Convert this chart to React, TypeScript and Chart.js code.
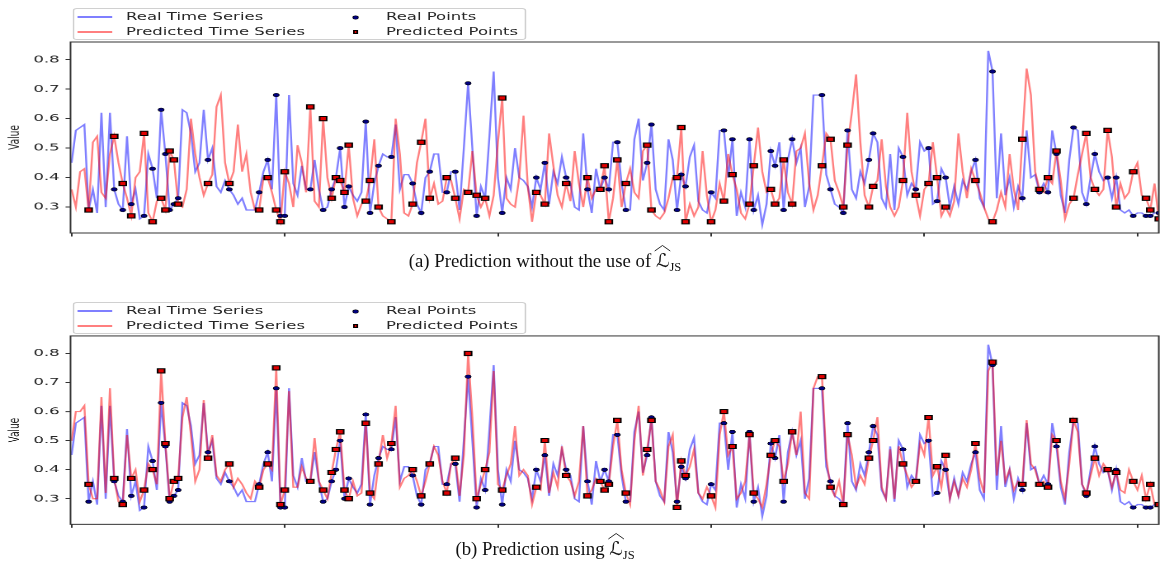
import React, { useEffect, useRef } from "react";
import { Chart, registerables } from "chart.js";
Chart.register(...registerables);

// one stored value every SAMPLE_STEP time steps
const SAMPLE_STEP = 2;

const realSeries = [
  0.45, 0.56, 0.57, 0.58, 0.29, 0.36, 0.28, 0.62, 0.30, 0.62,
  0.36, 0.31, 0.29, 0.54, 0.31, 0.36, 0.26, 0.27, 0.48, 0.43,
  0.33, 0.63, 0.48, 0.29, 0.31, 0.33, 0.63, 0.62, 0.55, 0.42,
  0.45, 0.63, 0.46, 0.50, 0.37, 0.35, 0.39, 0.36, 0.34, 0.31,
  0.33, 0.29, 0.29, 0.29, 0.35, 0.42, 0.46, 0.36, 0.68, 0.27,
  0.27, 0.68, 0.38, 0.34, 0.44, 0.36, 0.36, 0.46, 0.36, 0.29,
  0.30, 0.36, 0.40, 0.50, 0.30, 0.37, 0.34, 0.32, 0.35, 0.59,
  0.28, 0.38, 0.44, 0.48, 0.47, 0.47, 0.58, 0.36, 0.41, 0.41,
  0.38, 0.31, 0.28, 0.40, 0.42, 0.48, 0.48, 0.35, 0.35, 0.42,
  0.42, 0.29, 0.50, 0.72, 0.50, 0.27, 0.37, 0.33, 0.54, 0.76,
  0.40, 0.28, 0.40, 0.36, 0.50, 0.40, 0.39, 0.37, 0.30, 0.40,
  0.36, 0.45, 0.31, 0.42, 0.38, 0.47, 0.40, 0.38, 0.30, 0.29,
  0.55, 0.36, 0.28, 0.43, 0.36, 0.40, 0.36, 0.52, 0.52, 0.38,
  0.29, 0.29, 0.53, 0.60, 0.39, 0.45, 0.58, 0.36, 0.31, 0.29,
  0.53, 0.46, 0.29, 0.41, 0.37, 0.47, 0.51, 0.32, 0.29, 0.28,
  0.35, 0.33, 0.56, 0.56, 0.40, 0.53, 0.27, 0.35, 0.30, 0.53,
  0.29, 0.34, 0.24, 0.31, 0.49, 0.44, 0.52, 0.29, 0.46, 0.53,
  0.45, 0.50, 0.30, 0.37, 0.68, 0.68, 0.68, 0.41, 0.36, 0.31,
  0.30, 0.28, 0.56, 0.36, 0.33, 0.42, 0.38, 0.46, 0.55, 0.52,
  0.33, 0.30, 0.48, 0.29, 0.50, 0.47, 0.34, 0.38, 0.36, 0.52,
  0.49, 0.50, 0.31, 0.32, 0.43, 0.40, 0.30, 0.37, 0.31, 0.39,
  0.36, 0.42, 0.46, 0.33, 0.30, 0.83, 0.76, 0.33, 0.55, 0.34,
  0.40, 0.30, 0.37, 0.33, 0.56, 0.40, 0.41, 0.35, 0.38, 0.35,
  0.56, 0.48, 0.34, 0.28, 0.46, 0.57, 0.56, 0.35, 0.31, 0.40,
  0.48, 0.42, 0.39, 0.40, 0.33, 0.40, 0.29, 0.28, 0.29, 0.27,
  0.28, 0.28, 0.27, 0.27, 0.28, 0.28,
];

const predNoJS = [
  0.36, 0.30, 0.42, 0.43, 0.29, 0.52, 0.54, 0.35, 0.33, 0.48,
  0.54, 0.45, 0.38, 0.33, 0.27, 0.40, 0.42, 0.55, 0.28, 0.25,
  0.32, 0.33, 0.29, 0.49, 0.46, 0.31, 0.30, 0.36, 0.60, 0.48,
  0.40, 0.34, 0.38, 0.41, 0.64, 0.68, 0.45, 0.38, 0.42, 0.58,
  0.42, 0.48, 0.35, 0.29, 0.29, 0.40, 0.40, 0.35, 0.29, 0.25,
  0.42, 0.38, 0.30, 0.51, 0.45, 0.35, 0.64, 0.32, 0.30, 0.60,
  0.40, 0.33, 0.40, 0.39, 0.35, 0.51, 0.33, 0.27, 0.31, 0.32,
  0.39, 0.53, 0.30, 0.27, 0.26, 0.25, 0.60, 0.48, 0.28, 0.27,
  0.31, 0.45, 0.52, 0.60, 0.33, 0.38, 0.31, 0.32, 0.40, 0.39,
  0.33, 0.26, 0.36, 0.35, 0.49, 0.34, 0.30, 0.33, 0.27, 0.34,
  0.52, 0.67, 0.33, 0.31, 0.30, 0.40, 0.61, 0.37, 0.25, 0.35,
  0.34, 0.31, 0.55, 0.44, 0.34, 0.30, 0.38, 0.32, 0.49, 0.38,
  0.30, 0.40, 0.33, 0.36, 0.36, 0.44, 0.25, 0.33, 0.46, 0.30,
  0.38, 0.43, 0.35, 0.33, 0.49, 0.51, 0.29, 0.27, 0.26, 0.28,
  0.33, 0.40, 0.40, 0.57, 0.25, 0.31, 0.27, 0.30, 0.49, 0.34,
  0.25, 0.29, 0.38, 0.32, 0.48, 0.41, 0.36, 0.28, 0.26, 0.31,
  0.44, 0.57, 0.42, 0.35, 0.36, 0.31, 0.33, 0.46, 0.35, 0.31,
  0.49, 0.50, 0.55, 0.38, 0.29, 0.34, 0.44, 0.55, 0.53, 0.39,
  0.35, 0.30, 0.51, 0.62, 0.75, 0.52, 0.34, 0.30, 0.37, 0.39,
  0.53, 0.37, 0.30, 0.27, 0.30, 0.39, 0.62, 0.42, 0.34, 0.27,
  0.36, 0.38, 0.52, 0.40, 0.27, 0.30, 0.27, 0.32, 0.55, 0.42,
  0.33, 0.43, 0.39, 0.35, 0.30, 0.26, 0.25, 0.29, 0.35, 0.30,
  0.48, 0.36, 0.29, 0.53, 0.77, 0.68, 0.42, 0.36, 0.35, 0.40,
  0.38, 0.49, 0.39, 0.26, 0.31, 0.33, 0.41, 0.48, 0.55, 0.40,
  0.36, 0.34, 0.36, 0.56, 0.47, 0.30, 0.38, 0.33, 0.35, 0.42,
  0.45, 0.34, 0.33, 0.29, 0.38, 0.26,
];

const predJS = [
  0.50, 0.60, 0.60, 0.62, 0.35, 0.30, 0.30, 0.65, 0.32, 0.68,
  0.37, 0.29, 0.28, 0.52, 0.37, 0.40, 0.29, 0.33, 0.42, 0.40,
  0.35, 0.74, 0.49, 0.30, 0.36, 0.37, 0.58, 0.65, 0.52, 0.36,
  0.40, 0.64, 0.44, 0.52, 0.38, 0.36, 0.40, 0.42, 0.34, 0.37,
  0.35, 0.32, 0.30, 0.36, 0.34, 0.40, 0.42, 0.40, 0.75, 0.28,
  0.33, 0.67, 0.34, 0.34, 0.41, 0.37, 0.36, 0.51, 0.36, 0.33,
  0.30, 0.39, 0.47, 0.53, 0.33, 0.30, 0.36, 0.31, 0.32, 0.56,
  0.32, 0.30, 0.42, 0.52, 0.44, 0.49, 0.62, 0.34, 0.37, 0.38,
  0.40, 0.36, 0.31, 0.36, 0.42, 0.48, 0.45, 0.36, 0.32, 0.42,
  0.44, 0.31, 0.45, 0.80, 0.58, 0.30, 0.35, 0.40, 0.46, 0.74,
  0.35, 0.33, 0.38, 0.42, 0.55, 0.38, 0.40, 0.38, 0.28, 0.34,
  0.33, 0.50, 0.32, 0.39, 0.34, 0.48, 0.38, 0.36, 0.31, 0.36,
  0.55, 0.31, 0.33, 0.37, 0.36, 0.33, 0.35, 0.48, 0.57, 0.40,
  0.32, 0.28, 0.50, 0.62, 0.38, 0.47, 0.57, 0.36, 0.33, 0.29,
  0.48, 0.52, 0.27, 0.43, 0.38, 0.41, 0.47, 0.32, 0.30, 0.34,
  0.31, 0.27, 0.52, 0.60, 0.45, 0.48, 0.30, 0.32, 0.36, 0.52,
  0.32, 0.30, 0.27, 0.35, 0.45, 0.50, 0.48, 0.36, 0.42, 0.53,
  0.45, 0.60, 0.32, 0.30, 0.68, 0.72, 0.72, 0.44, 0.34, 0.31,
  0.36, 0.28, 0.52, 0.45, 0.34, 0.38, 0.35, 0.44, 0.50, 0.58,
  0.34, 0.30, 0.47, 0.30, 0.48, 0.42, 0.38, 0.34, 0.36, 0.49,
  0.45, 0.58, 0.38, 0.41, 0.34, 0.45, 0.30, 0.36, 0.31, 0.37,
  0.34, 0.40, 0.49, 0.37, 0.32, 0.74, 0.77, 0.38, 0.50, 0.36,
  0.40, 0.33, 0.36, 0.35, 0.57, 0.42, 0.40, 0.35, 0.36, 0.34,
  0.52, 0.50, 0.36, 0.30, 0.42, 0.57, 0.53, 0.35, 0.32, 0.38,
  0.44, 0.38, 0.42, 0.40, 0.34, 0.39, 0.33, 0.32, 0.40, 0.36,
  0.33, 0.38, 0.30, 0.35, 0.28, 0.28,
];

// indices (into the stored arrays) of the marked sample points
const sampleIdx = [
  4, 10, 12, 14, 17, 19, 21, 22, 23, 24, 25, 32, 37, 44, 46, 48, 49, 50, 56, 59,
  61, 62, 63, 64, 65, 69, 70, 72, 75, 80, 82, 84, 88, 90, 93, 95, 97, 101, 109, 111,
  116, 121, 124, 125, 126, 128, 130, 135, 136, 142, 143, 144, 150, 153, 155, 159, 160, 164, 165, 167,
  169, 176, 178, 181, 182, 187, 188, 195, 198, 201, 203, 205, 212, 216, 223, 227, 229, 231, 235, 238,
  240, 243, 245, 249, 252, 253, 255,
];

const yTicks = [0.3, 0.4, 0.5, 0.6, 0.7, 0.8];
const xTicks = [0, 100, 200, 300, 400, 500];
const legendLabels = ["Real Time Series", "Predicted Time Series", "Real Points", "Predicted Points"];
const captionTexts = ["(a) Prediction without the use of ", "(b) Prediction using "];

const SX = 1.65; // the figure is stretched horizontally
const PAGE_W = 1167;
const W = PAGE_W / SX;
const PLOT_LEFT = 70.5;
const PLOT_RIGHT = 1164;

const toXY = (arr: number[]) => arr.map((v, k) => ({ x: k * SAMPLE_STEP, y: v }));
const toPts = (arr: number[]) => sampleIdx.map((k) => ({ x: k * SAMPLE_STEP, y: arr[k] }));

const framePlugin = {
  id: "frame",
  afterDraw(chart: any) {
    const { ctx, chartArea } = chart;
    const { left, top, right, bottom } = chartArea;
    ctx.save();
    ctx.strokeStyle = "#333";
    ctx.lineWidth = 1;
    ctx.strokeRect(left, top, right - left, bottom - top);
    ctx.restore();
  },
};

const TEXT = "#262626";

function Legend({ top }: { top: number }) {
  const r1 = top + 9;
  const r2 = top + 24;
  const txt = (s: string, left: number, cy: number) => (
    <div
      style={{
        position: "absolute",
        left,
        top: cy - 6.5,
        fontFamily: "'DejaVu Sans', sans-serif",
        fontSize: 10,
        lineHeight: "12px",
        color: TEXT,
        whiteSpace: "nowrap",
      }}
    >
      {s}
    </div>
  );
  return (
    <>
      <div
        style={{
          position: "absolute",
          left: 44.2,
          top,
          width: 274.5,
          height: 32,
          border: "1px solid #d0d0d0",
          borderRadius: 2.5,
          background: "rgba(255,255,255,0.8)",
          boxSizing: "border-box",
        }}
      />
      <div style={{ position: "absolute", left: 47.3, top: r1 - 0.6, width: 21.2, height: 1.2, background: "rgba(0,0,255,0.5)" }} />
      <div style={{ position: "absolute", left: 47.3, top: r2 - 0.6, width: 21.2, height: 1.2, background: "rgba(255,0,0,0.5)" }} />
      {txt(legendLabels[0], 76.4, r1)}
      {txt(legendLabels[1], 76.4, r2)}
      <div
        style={{
          position: "absolute",
          left: 214.2,
          top: r1 - 1.5,
          width: 2.8,
          height: 3,
          borderRadius: "50%",
          background: "#000080",
          boxShadow: "0 0 0 0.4px #000",
        }}
      />
      <div
        style={{
          position: "absolute",
          left: 213.9,
          top: r2 - 1.8,
          width: 3.4,
          height: 3.6,
          background: "#e00000",
          border: "0.8px solid #000",
          boxSizing: "border-box",
        }}
      />
      {txt(legendLabels[2], 233.9, r1)}
      {txt(legendLabels[3], 233.9, r2)}
    </>
  );
}

function Panel({ predicted, plotTop, plotBottom, legendTop }: { predicted: number[]; plotTop: number; plotBottom: number; legendTop: number }) {
  const ref = useRef<HTMLCanvasElement | null>(null);
  const PAD = 18;
  const X_AXIS_H = 8;
  const canvasTop = plotTop - PAD;
  const canvasH = plotBottom - plotTop + 2 * PAD;

  useEffect(() => {
    if (!ref.current) return;
    const chart = new Chart(ref.current, {
      type: "line",
      data: {
        datasets: [
          {
            label: legendLabels[3],
            data: toPts(predicted),
            showLine: false,
            pointStyle: "rect",
            pointRadius: 3,
            pointBackgroundColor: "#e00000",
            pointBorderColor: "#000",
            pointBorderWidth: 1,
            order: 0,
          },
          {
            label: legendLabels[2],
            data: toPts(realSeries),
            showLine: false,
            pointStyle: "circle",
            pointRadius: 1.8,
            pointBackgroundColor: "#000080",
            pointBorderColor: "#000",
            pointBorderWidth: 0.5,
            order: 1,
          },
          {
            label: legendLabels[1],
            data: toXY(predicted),
            borderColor: "rgba(255,0,0,0.5)",
            borderWidth: 1.2,
            pointRadius: 0,
            tension: 0,
            order: 2,
          },
          {
            label: legendLabels[0],
            data: toXY(realSeries),
            borderColor: "rgba(0,0,255,0.5)",
            borderWidth: 1.2,
            pointRadius: 0,
            tension: 0,
            order: 3,
          },
        ] as any,
      },
      options: {
        animation: false,
        responsive: true,
        maintainAspectRatio: false,
        devicePixelRatio: 2,
        events: [],
        layout: { padding: { top: PAD, bottom: PAD - X_AXIS_H, left: 0, right: W - PLOT_RIGHT / SX } },
        plugins: { legend: { display: false }, tooltip: { enabled: false } },
        scales: {
          x: {
            type: "linear",
            min: -0.5,
            max: 510,
            afterBuildTicks: (s: any) => {
              s.ticks = xTicks.map((v) => ({ value: v }));
            },
            afterFit: (s: any) => {
              s.height = X_AXIS_H;
            },
            ticks: { display: false },
            grid: { display: true, drawOnChartArea: false, drawTicks: true, tickLength: 3.5, color: "#333", lineWidth: 1 },
            border: { display: false },
          },
          y: {
            type: "linear",
            min: 0.212,
            max: 0.86,
            afterBuildTicks: (s: any) => {
              s.ticks = yTicks.map((v) => ({ value: v }));
            },
            afterFit: (s: any) => {
              s.width = PLOT_LEFT / SX;
            },
            ticks: {
              autoSkip: false,
              padding: 3.6,
              color: TEXT,
              font: { family: "'DejaVu Sans'", size: 10 },
              callback: (v: any) => Number(v).toFixed(1),
            },
            grid: { display: true, drawOnChartArea: false, drawTicks: true, tickLength: 3, color: "#333", lineWidth: 1 },
            border: { display: false },
            title: {
              display: true,
              text: "Value",
              color: TEXT,
              font: { family: "'DejaVu Sans'", size: 9 },
              padding: { top: 3.7, bottom: 0 },
            },
          },
        },
      } as any,
      plugins: [framePlugin],
    });
    return () => chart.destroy();
  }, [predicted]);

  return (
    <div
      style={{
        position: "absolute",
        left: 0,
        top: 0,
        width: W,
        height: 564,
        transform: `scaleX(${SX})`,
        transformOrigin: "0 0",
      }}
    >
      <div style={{ position: "absolute", left: 0, top: canvasTop, width: W, height: canvasH }}>
        <canvas ref={ref} />
      </div>
      <Legend top={legendTop} />
    </div>
  );
}

function Caption({ text, top, center }: { text: string; top: number; center: number }) {
  return (
    <div
      style={{
        position: "absolute",
        top,
        left: center,
        transform: "translateX(-50%)",
        whiteSpace: "nowrap",
        fontFamily: "'Liberation Serif', 'Times New Roman', serif",
        fontSize: 18.8,
        lineHeight: "19px",
        color: "#111",
      }}
    >
      {text}
      <span style={{ position: "relative", display: "inline-block", fontFamily: "'DejaVu Sans', serif", fontStyle: "italic" }}>
        ℒ
        <svg
          viewBox="0 0 20 6"
          preserveAspectRatio="none"
          style={{ position: "absolute", left: -1, top: -6, width: "115%", height: 6, overflow: "visible" }}
        >
          <path d="M0 6 L10 0.5 L20 6" fill="none" stroke="#111" strokeWidth={1} />
        </svg>
      </span>
      <span style={{ fontSize: 12.5, position: "relative", top: 4 }}>JS</span>
    </div>
  );
}

export default function App() {
  return (
    <div style={{ position: "absolute", left: 0, top: 0, width: PAGE_W, height: 564, background: "#fff", overflow: "hidden" }}>
      <Panel predicted={predNoJS} plotTop={41.7} plotBottom={232.7} legendTop={8} />
      <Caption text={captionTexts[0]} top={251} center={545} />
      <Panel predicted={predJS} plotTop={335.7} plotBottom={524.5} legendTop={302} />
      <Caption text={captionTexts[1]} top={539} center={545} />
    </div>
  );
}
